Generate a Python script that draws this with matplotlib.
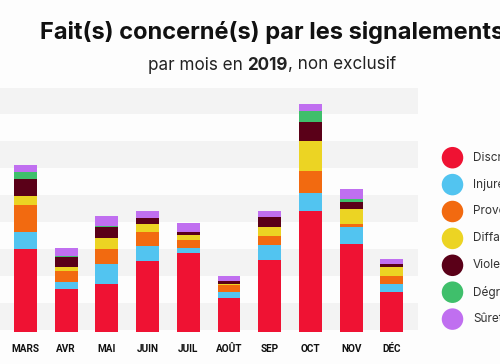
import matplotlib
matplotlib.use("Agg")
import matplotlib.pyplot as plt
import numpy as np

# data (visible months only)
months = ["MARS", "AVR", "MAI", "JUIN", "JUIL", "AOÛT", "SEP", "OCT", "NOV", "DÉC"]
categories = ["Discrimination", "Injure", "Provocation", "Diffamation",
              "Violence", "Dégradation", "Sûreté"]
colors = ["#ef1233", "#52c4f0", "#f26a10", "#ecd423", "#5a0018", "#3fbf6b", "#c06ff0"]

discrimination = [31.0, 16.0, 17.8, 26.5, 29.4, 12.9, 26.9, 44.9, 33.0, 14.9]
injure = [6.1, 2.8, 7.4, 5.7, 2.1, 1.9, 5.6, 6.8, 6.2, 3.2]
provocation = [10.3, 4.0, 5.6, 5.0, 2.9, 2.6, 3.3, 8.1, 0.9, 2.7]
diffamation = [3.3, 1.6, 4.1, 3.0, 1.6, 0.7, 3.5, 11.2, 5.8, 3.3]
violence = [6.2, 3.5, 4.1, 2.2, 1.1, 1.1, 3.6, 7.3, 2.5, 1.3]
degradation = [2.5, 0.4, 0.6, 0.0, 0.0, 0.0, 0.0, 4.1, 1.3, 0.0]
surete = [2.9, 2.9, 3.7, 2.5, 3.5, 1.9, 2.2, 2.5, 3.7, 1.9]

series = [discrimination, injure, provocation, diffamation, violence, degradation, surete]

W, H = 500, 364
fig = plt.figure(figsize=(5, 3.64), dpi=100)
fig.patch.set_facecolor("#fdfdfd")

# main axes: x from 0 to 418 px, y from 88 to 332 px
ax = fig.add_axes([0, (H - 332.3) / H, 418 / W, (332.3 - 88) / H])
ax.set_facecolor("#fdfdfd")
for s in ax.spines.values():
    s.set_visible(False)

ymax = 90.8
ax.set_ylim(0, ymax)
ax.set_xlim(-0.627, 9.644)

# alternating stripes
for k, lo in enumerate(np.arange(1, ymax, 10)):
    if k % 2 == 0:
        ax.axhspan(lo, min(lo + 10, ymax), color="#f3f3f3", lw=0, zorder=0)

x = np.arange(len(months))
bottom = np.zeros(len(months))
for vals, col in zip(series, colors):
    ax.bar(x, vals, bottom=bottom, width=0.565, color=col, lw=0, zorder=2)
    bottom += np.array(vals)

ax.set_xticks(x)
ax.set_xticklabels(months, fontsize=7.2, fontweight="bold", family="Roboto", color="#111111")
ax.tick_params(axis="x", length=0, pad=8.5)
ax.set_yticks([])

# overlay in pixel coordinates for titles and legend
ov = fig.add_axes([0, 0, 1, 1])
ov.set_xlim(0, W)
ov.set_ylim(H, 0)
ov.axis("off")
ov.patch.set_alpha(0)

ov.text(272, 33, "Fait(s) concerné(s) par les signalements", ha="center", va="center",
        fontsize=17, fontweight="bold", family="Inter", color="#111111")

# subtitle with bold year
parts = [("par mois en ", "normal"), ("2019", "bold"), (", non exclusif", "normal")]
renderer = fig.canvas.get_renderer()
texts = []
for txt, wt in parts:
    t = ov.text(0, 65, txt, ha="left", va="center", fontsize=12.3, fontweight=wt,
                family="Inter", color="#222222")
    texts.append(t)
widths = [t.get_window_extent(renderer).width for t in texts]
xs = 272 - sum(widths) / 2
for t, w in zip(texts, widths):
    t.set_x(xs)
    xs += w

# legend (the reference crop cuts the labels at the right edge)
leg_y = 157.7 + 26.9 * np.arange(len(categories))
ov.scatter(np.full(len(categories), 452.5), leg_y, s=240, c=colors, lw=0)
for yy, lab in zip(leg_y, categories):
    ov.text(473, yy, lab, ha="left", va="center", fontsize=8.5, family="Inter",
            color="#333333")

fig.savefig("out.png", dpi=100)
